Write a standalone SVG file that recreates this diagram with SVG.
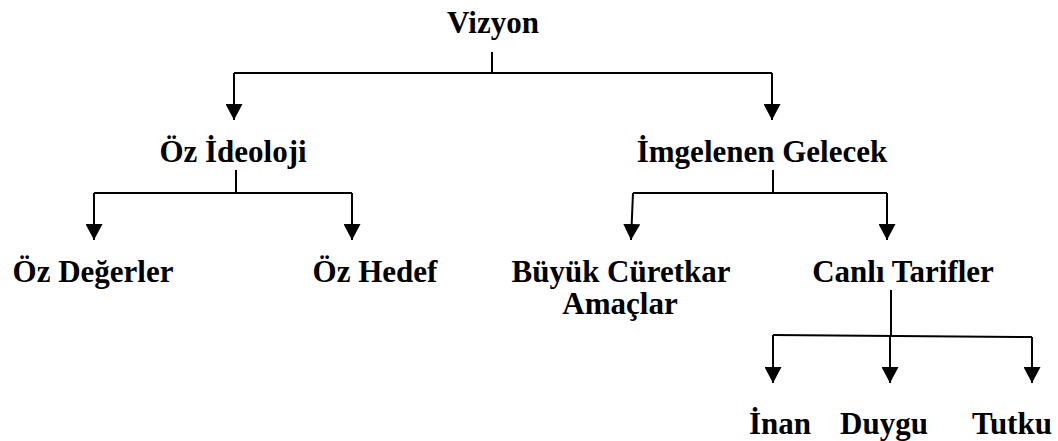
<svg xmlns="http://www.w3.org/2000/svg" width="1058" height="441" viewBox="0 0 1058 441">
<style>
text{font-family:"Liberation Serif","Times New Roman",serif;font-weight:bold;font-size:31px;fill:#000;text-anchor:middle}
.c{fill:none;stroke:#000;stroke-width:2}
</style>
<defs>
<marker id="ah" viewBox="0 0 16 17" refX="16" refY="8.5" markerWidth="16" markerHeight="17" markerUnits="userSpaceOnUse" orient="auto">
<path d="M0,0L16,8.5L0,17Z" fill="#000"/>
</marker>
</defs>
<rect width="1058" height="441" fill="#fff"/>
<g id="connectors">
<path class="c" d="M492,52V73"/>
<path class="c" d="M234,73H772"/>
<path class="c" d="M234,73V120" marker-end="url(#ah)"/>
<path class="c" d="M772,73V120" marker-end="url(#ah)"/>
<path class="c" d="M236,170V193"/>
<path class="c" d="M94,193H352"/>
<path class="c" d="M94,193V240" marker-end="url(#ah)"/>
<path class="c" d="M352,193V240" marker-end="url(#ah)"/>
<path class="c" d="M773,170V193"/>
<path class="c" d="M633,193H887"/>
<path class="c" d="M633,193L631,240" marker-end="url(#ah)"/>
<path class="c" d="M887,193V240" marker-end="url(#ah)"/>
<path class="c" d="M891,290V336"/>
<path class="c" d="M773,335L1032,337"/>
<path class="c" d="M773,335V383" marker-end="url(#ah)"/>
<path class="c" d="M890,336V383" marker-end="url(#ah)"/>
<path class="c" d="M1032,337V383" marker-end="url(#ah)"/>
</g>
<g id="vizyon"><text x="493" y="33">Vizyon</text></g>
<g id="oz-ideoloji"><text x="233" y="162">Öz İdeoloji</text></g>
<g id="imgelenen-gelecek"><text x="762" y="162">İmgelenen Gelecek</text></g>
<g id="oz-degerler"><text x="93" y="282">Öz Değerler</text></g>
<g id="oz-hedef"><text x="375" y="282">Öz Hedef</text></g>
<g id="buyuk-curetkar-amaclar"><text x="621" y="282">Büyük Cüretkar</text><text x="620" y="314">Amaçlar</text></g>
<g id="canli-tarifler"><text x="903" y="282">Canlı Tarifler</text></g>
<g id="inan"><text x="780" y="434">İnan</text></g>
<g id="duygu"><text x="884" y="434">Duygu</text></g>
<g id="tutku"><text x="1012" y="434">Tutku</text></g>
</svg>
